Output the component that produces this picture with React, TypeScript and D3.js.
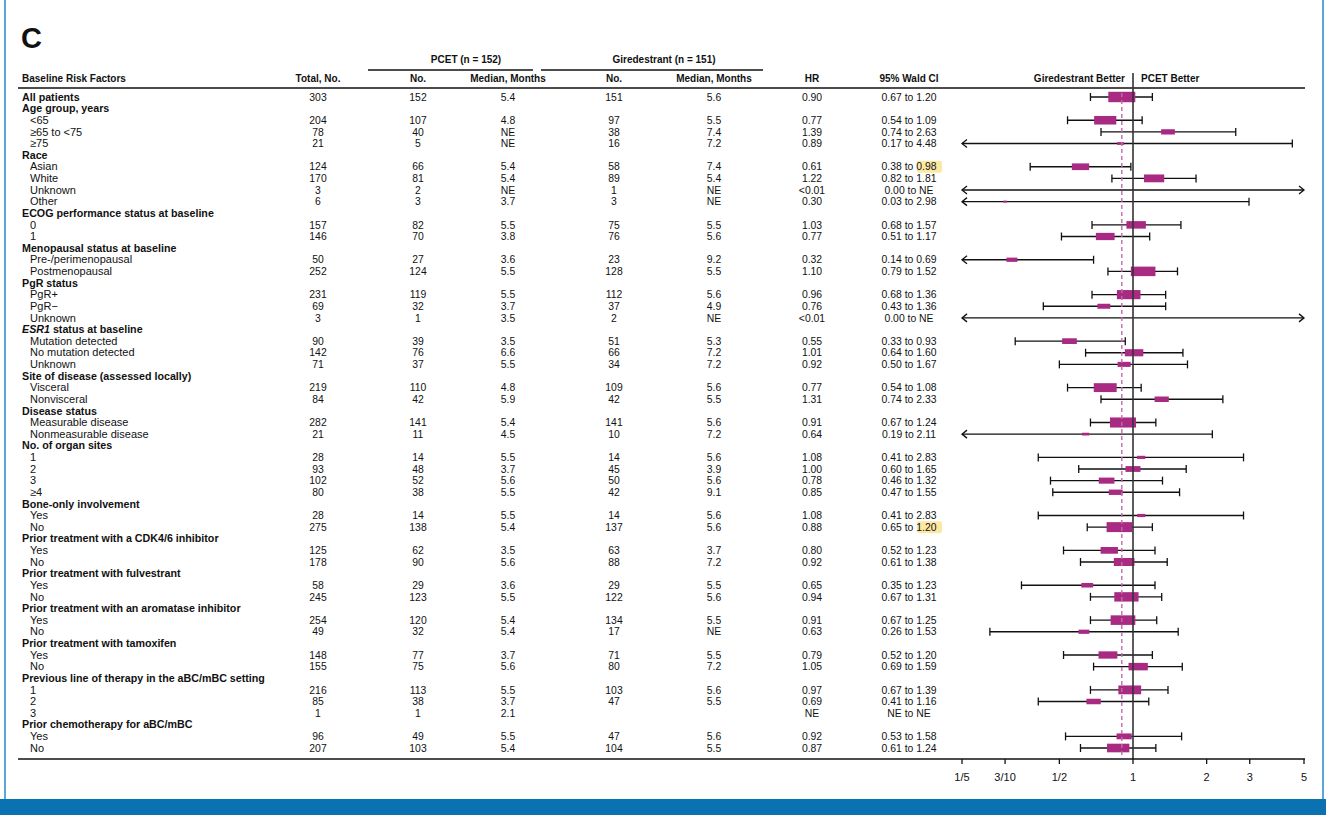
import React from "react";
import * as d3 from "d3";

// ---------- DATA ----------
const labels = [
  "All patients", "Age group, years", "<65", "≥65 to <75", "≥75",
  "Race", "Asian", "White", "Unknown", "Other",
  "ECOG performance status at baseline", "0", "1",
  "Menopausal status at baseline", "Pre-/perimenopausal", "Postmenopausal",
  "PgR status", "PgR+", "PgR−", "Unknown",
  "ESR1 status at baseline", "Mutation detected", "No mutation detected", "Unknown",
  "Site of disease (assessed locally)", "Visceral", "Nonvisceral",
  "Disease status", "Measurable disease", "Nonmeasurable disease",
  "No. of organ sites", "1", "2", "3", "≥4",
  "Bone-only involvement", "Yes", "No",
  "Prior treatment with a CDK4/6 inhibitor", "Yes", "No",
  "Prior treatment with fulvestrant", "Yes", "No",
  "Prior treatment with an aromatase inhibitor", "Yes", "No",
  "Prior treatment with tamoxifen", "Yes", "No",
  "Previous line of therapy in the aBC/mBC setting", "1", "2", "3",
  "Prior chemotherapy for aBC/mBC", "Yes", "No",
];
// 1 = bold group header, 0 = indented sub-row
const isHeader = [
  1, 1, 0, 0, 0,
  1, 0, 0, 0, 0,
  1, 0, 0,
  1, 0, 0,
  1, 0, 0, 0,
  1, 0, 0, 0,
  1, 0, 0,
  1, 0, 0,
  1, 0, 0, 0, 0,
  1, 0, 0,
  1, 0, 0,
  1, 0, 0,
  1, 0, 0,
  1, 0, 0,
  1, 0, 0, 0,
  1, 0, 0,
];
const totalN = [
  "303", "", "204", "78", "21",
  "", "124", "170", "3", "6",
  "", "157", "146",
  "", "50", "252",
  "", "231", "69", "3",
  "", "90", "142", "71",
  "", "219", "84",
  "", "282", "21",
  "", "28", "93", "102", "80",
  "", "28", "275",
  "", "125", "178",
  "", "58", "245",
  "", "254", "49",
  "", "148", "155",
  "", "216", "85", "1",
  "", "96", "207",
];
const pcetN = [
  "152", "", "107", "40", "5",
  "", "66", "81", "2", "3",
  "", "82", "70",
  "", "27", "124",
  "", "119", "32", "1",
  "", "39", "76", "37",
  "", "110", "42",
  "", "141", "11",
  "", "14", "48", "52", "38",
  "", "14", "138",
  "", "62", "90",
  "", "29", "123",
  "", "120", "32",
  "", "77", "75",
  "", "113", "38", "1",
  "", "49", "103",
];
const pcetMedian = [
  "5.4", "", "4.8", "NE", "NE",
  "", "5.4", "5.4", "NE", "3.7",
  "", "5.5", "3.8",
  "", "3.6", "5.5",
  "", "5.5", "3.7", "3.5",
  "", "3.5", "6.6", "5.5",
  "", "4.8", "5.9",
  "", "5.4", "4.5",
  "", "5.5", "3.7", "5.6", "5.5",
  "", "5.5", "5.4",
  "", "3.5", "5.6",
  "", "3.6", "5.5",
  "", "5.4", "5.4",
  "", "3.7", "5.6",
  "", "5.5", "3.7", "2.1",
  "", "5.5", "5.4",
];
const girN = [
  "151", "", "97", "38", "16",
  "", "58", "89", "1", "3",
  "", "75", "76",
  "", "23", "128",
  "", "112", "37", "2",
  "", "51", "66", "34",
  "", "109", "42",
  "", "141", "10",
  "", "14", "45", "50", "42",
  "", "14", "137",
  "", "63", "88",
  "", "29", "122",
  "", "134", "17",
  "", "71", "80",
  "", "103", "47", "",
  "", "47", "104",
];
const girMedian = [
  "5.6", "", "5.5", "7.4", "7.2",
  "", "7.4", "5.4", "NE", "NE",
  "", "5.5", "5.6",
  "", "9.2", "5.5",
  "", "5.6", "4.9", "NE",
  "", "5.3", "7.2", "7.2",
  "", "5.6", "5.5",
  "", "5.6", "7.2",
  "", "5.6", "3.9", "5.6", "9.1",
  "", "5.6", "5.6",
  "", "3.7", "7.2",
  "", "5.5", "5.6",
  "", "5.5", "NE",
  "", "5.5", "7.2",
  "", "5.6", "5.5", "",
  "", "5.6", "5.5",
];
const hrText = [
  "0.90", "", "0.77", "1.39", "0.89",
  "", "0.61", "1.22", "<0.01", "0.30",
  "", "1.03", "0.77",
  "", "0.32", "1.10",
  "", "0.96", "0.76", "<0.01",
  "", "0.55", "1.01", "0.92",
  "", "0.77", "1.31",
  "", "0.91", "0.64",
  "", "1.08", "1.00", "0.78", "0.85",
  "", "1.08", "0.88",
  "", "0.80", "0.92",
  "", "0.65", "0.94",
  "", "0.91", "0.63",
  "", "0.79", "1.05",
  "", "0.97", "0.69", "NE",
  "", "0.92", "0.87",
];
const ciLowText = [
  "0.67", "", "0.54", "0.74", "0.17",
  "", "0.38", "0.82", "0.00", "0.03",
  "", "0.68", "0.51",
  "", "0.14", "0.79",
  "", "0.68", "0.43", "0.00",
  "", "0.33", "0.64", "0.50",
  "", "0.54", "0.74",
  "", "0.67", "0.19",
  "", "0.41", "0.60", "0.46", "0.47",
  "", "0.41", "0.65",
  "", "0.52", "0.61",
  "", "0.35", "0.67",
  "", "0.67", "0.26",
  "", "0.52", "0.69",
  "", "0.67", "0.41", "NE",
  "", "0.53", "0.61",
];
const ciHighText = [
  "1.20", "", "1.09", "2.63", "4.48",
  "", "0.98", "1.81", "NE", "2.98",
  "", "1.57", "1.17",
  "", "0.69", "1.52",
  "", "1.36", "1.36", "NE",
  "", "0.93", "1.60", "1.67",
  "", "1.08", "2.33",
  "", "1.24", "2.11",
  "", "2.83", "1.65", "1.32", "1.55",
  "", "2.83", "1.20",
  "", "1.23", "1.38",
  "", "1.23", "1.31",
  "", "1.25", "1.53",
  "", "1.20", "1.59",
  "", "1.39", "1.16", "NE",
  "", "1.58", "1.24",
];
// highlighted upper CI values (row indices)
const highlightRows = [6, 37];
const tickValues = [0.2, 0.3, 0.5, 1, 2, 3, 5];
const tickLabels = ["1/5", "3/10", "1/2", "1", "2", "3", "5"];
const overallHR = 0.9;

// ---------- STYLE ----------
const FONT = "'Liberation Sans', Arial, Helvetica, sans-serif";
const FS = 10.4;
const MAGENTA = "#a82a82";
const BLUE = "#0a72b0";

const num = (s: string) => (s === "" || s === "NE" || s.startsWith("<") ? NaN : +s);

export default function App() {
  const W = 1326, H = 815;
  const x = d3.scaleLog().domain([0.2, 5]).range([962, 1304]);
  const yScale = d3.scaleLinear().domain([0, labels.length - 1]).range([97, 748]);
  const cols = { total: 318, pN: 418, pM: 508, gN: 614, gM: 714, hr: 812, ci: 909 };
  const axisY = 759;

  const rows = labels.map((lab, i) => {
    const y = yScale(i);
    const bold = isHeader[i] === 1;
    const isESR1 = lab.startsWith("ESR1");
    const tx = bold ? 22 : 30;
    const by = y + 3.7;
    return (
      <g key={"r" + i}>
        {isESR1 ? (
          <text x={tx} y={by} fontWeight={700} fontSize={10.7}>
            <tspan fontStyle="italic">ESR1</tspan>
            <tspan>{lab.slice(4)}</tspan>
          </text>
        ) : (
          <text x={tx} y={by} fontWeight={bold ? 700 : 400} fontSize={bold ? 10.7 : 11}>{lab}</text>
        )}
        <text x={cols.total} y={by} textAnchor="middle">{totalN[i]}</text>
        <text x={cols.pN} y={by} textAnchor="middle">{pcetN[i]}</text>
        <text x={cols.pM} y={by} textAnchor="middle">{pcetMedian[i]}</text>
        <text x={cols.gN} y={by} textAnchor="middle">{girN[i]}</text>
        <text x={cols.gM} y={by} textAnchor="middle">{girMedian[i]}</text>
        <text x={cols.hr} y={by} textAnchor="middle">{hrText[i]}</text>
        {ciLowText[i] !== "" && (
          <text x={cols.ci} y={by} textAnchor="middle">
            {ciLowText[i] + " to " + ciHighText[i]}
          </text>
        )}
      </g>
    );
  });

  const highlights = highlightRows.map((i) => {
    const y = yScale(i);
    return (
      <rect key={"h" + i} x={917} y={y - 6} width={25} height={12} rx={2} fill="#fde8a3" />
    );
  });

  const [d0, d1] = x.domain();
  const marks = labels.map((_, i) => {
    const lo = num(ciLowText[i]);
    const hiS = ciHighText[i];
    const hr = num(hrText[i]);
    const n = num(totalN[i]);
    if (ciLowText[i] === "" || ciLowText[i] === "NE") return null;
    const y = yScale(i);
    const hi = hiS === "NE" ? Infinity : +hiS;
    const leftArrow = lo < d0;
    const rightArrow = hi > d1;
    const xl = leftArrow ? x(d0) : x(lo);
    const xr = rightArrow ? x(d1) : x(hi);
    const els: any[] = [];
    els.push(<line key="w" x1={xl} x2={xr} y1={y} y2={y} stroke="#111" strokeWidth={1.3} />);
    if (leftArrow)
      els.push(<path key="la" d={`M${xl + 5},${y - 4}L${xl},${y}L${xl + 5},${y + 4}`} fill="none" stroke="#111" strokeWidth={1.3} />);
    else els.push(<line key="lc" x1={xl} x2={xl} y1={y - 4} y2={y + 4} stroke="#111" strokeWidth={1.3} />);
    if (rightArrow)
      els.push(<path key="ra" d={`M${xr - 5},${y - 4}L${xr},${y}L${xr - 5},${y + 4}`} fill="none" stroke="#111" strokeWidth={1.3} />);
    else els.push(<line key="rc" x1={xr} x2={xr} y1={y - 4} y2={y + 4} stroke="#111" strokeWidth={1.3} />);
    if (!isNaN(hr)) {
      const bw = 1.55 * Math.sqrt(n);
      const bh = Math.max(2, 0.6 * Math.sqrt(n));
      els.push(<rect key="b" x={x(hr) - bw / 2} y={y - bh / 2} width={bw} height={bh} fill={MAGENTA} />);
    }
    return <g key={"m" + i}>{els}</g>;
  });

  return (
    <svg width={W} height={H} style={{ position: "absolute", left: 0, top: 0, display: "block" }}
      fontFamily={FONT} fontSize={FS} fill="#111">
      <rect x={0} y={0} width={W} height={H} fill="#fff" />
      {/* frame */}
      <rect x={4} y={0} width={2} height={800} fill="#5aa7d8" />
      <rect x={1322} y={0} width={2} height={800} fill="#5aa7d8" />
      <rect x={0} y={799} width={W} height={16} fill={BLUE} />

      <text x={21} y={48} fontSize={29} fontWeight={700}>C</text>

      {/* group headers */}
      <g fontSize={10}>
        <text x={466} y={63} textAnchor="middle" fontWeight={700}>PCET (n = 152)</text>
        <text x={664} y={63} textAnchor="middle" fontWeight={700}>Giredestrant (n = 151)</text>
      </g>
      <line x1={368} x2={533} y1={70} y2={70} stroke="#111" strokeWidth={1.4} />
      <line x1={541} x2={763} y1={70} y2={70} stroke="#111" strokeWidth={1.4} />

      {/* column headers */}
      <g fontWeight={700} fontSize={10}>
        <text x={22} y={82}>Baseline Risk Factors</text>
        <text x={cols.total} y={82} textAnchor="middle">Total, No.</text>
        <text x={cols.pN} y={82} textAnchor="middle">No.</text>
        <text x={cols.pM} y={82} textAnchor="middle">Median, Months</text>
        <text x={cols.gN} y={82} textAnchor="middle">No.</text>
        <text x={cols.gM} y={82} textAnchor="middle">Median, Months</text>
        <text x={cols.hr} y={82} textAnchor="middle">HR</text>
        <text x={cols.ci} y={82} textAnchor="middle">95% Wald CI</text>
        <text x={x(1) - 8} y={82} textAnchor="end">Giredestrant Better</text>
        <text x={x(1) + 8} y={82}>PCET Better</text>
      </g>
      <line x1={18} x2={1305} y1={88} y2={88} stroke="#111" strokeWidth={1.5} />

      {highlights}
      {rows}
      {marks}

      {/* reference lines */}
      <line x1={x(overallHR)} x2={x(overallHR)} y1={93} y2={756} stroke="#c56aa8" strokeWidth={1.4} strokeDasharray="4,3" />
      <line x1={x(1)} x2={x(1)} y1={73} y2={axisY} stroke="#333" strokeWidth={1.6} />

      {/* axis */}
      <line x1={18} x2={1305} y1={axisY} y2={axisY} stroke="#111" strokeWidth={1.5} />
      {tickValues.map((t, k) => (
        <g key={"t" + k}>
          <line x1={x(t)} x2={x(t)} y1={axisY} y2={axisY + 5} stroke="#111" strokeWidth={1.3} />
          <text x={x(t)} y={axisY + 22} textAnchor="middle" fontSize={11}>{tickLabels[k]}</text>
        </g>
      ))}
    </svg>
  );
}
